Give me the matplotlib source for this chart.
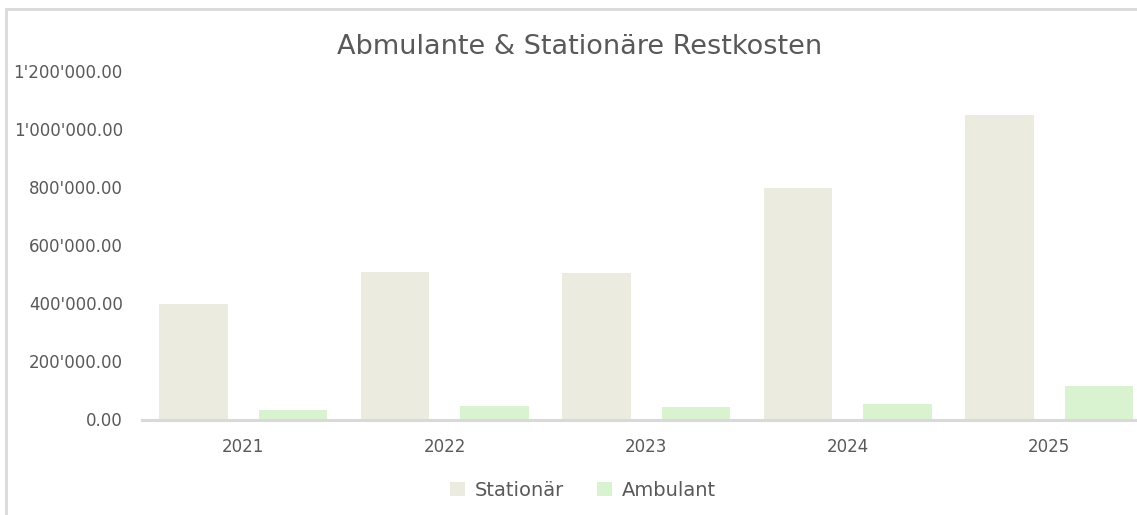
import matplotlib
matplotlib.use('Agg')
import matplotlib.pyplot as plt
import numpy as np
from matplotlib.ticker import FuncFormatter, MultipleLocator
from matplotlib.patches import Rectangle

plt.rcParams.update({'font.family': 'DejaVu Sans'})

# Daten
years = ['2021', '2022', '2023', '2024', '2025']
stationaer = [397000, 507000, 503000, 797000, 1049000]
ambulant = [34000, 45000, 44000, 52000, 114000]

TEXT = '#595959'
C_STAT = '#EBEBE0'
C_AMB = '#D9F2D0'

W, H = 1137, 515
fig = plt.figure(figsize=(W / 100, H / 100), dpi=100)

# Rahmen (nur links/oben sichtbar, rechts/unten abgeschnitten)
fig.patches.append(Rectangle((6 / W, -0.1), 1.2, (H - 9.5) / H + 0.1,
                             transform=fig.transFigure, fill=False,
                             edgecolor='#D9D9D9', linewidth=2))

left, right = 142.25, 1149.75
top, bottom = 71, 419.5
ax = fig.add_axes([left / W, (H - bottom) / H, (right - left) / W, (bottom - top) / H])

x = np.arange(len(years))
bw = 0.34
ax.bar(x - 0.246, stationaer, width=bw, color=C_STAT, label='Stationär')
ax.bar(x + 0.247, ambulant, width=bw, color=C_AMB, label='Ambulant')

ax.set_xlim(-0.5, len(years) - 0.5)
ax.set_ylim(0, 1200000)
ax.yaxis.set_major_locator(MultipleLocator(200000))


def chf(v, pos):
    s = f'{v:,.2f}'
    return s.replace(',', "'")


ax.yaxis.set_major_formatter(FuncFormatter(chf))
ax.set_xticks(x)
ax.set_xticklabels(years)

for s in ['top', 'right', 'left']:
    ax.spines[s].set_visible(False)
ax.spines['bottom'].set_color('#D9D9D9')
ax.spines['bottom'].set_linewidth(2.2)
ax.tick_params(axis='both', length=0, colors=TEXT)
ax.tick_params(axis='y', pad=14, labelsize=12)
ax.tick_params(axis='x', pad=13, labelsize=12)

fig.text(580 / W, 1 - 47 / H, 'Abmulante & Stationäre Restkosten',
         ha='center', va='center', fontsize=19.5, color=TEXT)

fig.legend(loc='center', bbox_to_anchor=(583 / W, 1 - 490 / H), ncol=2,
           frameon=False, fontsize=14, labelcolor=TEXT,
           handlelength=0.75, handleheight=0.75, handletextpad=0.5,
           columnspacing=1.7)

fig.savefig('out.png', dpi=100)
